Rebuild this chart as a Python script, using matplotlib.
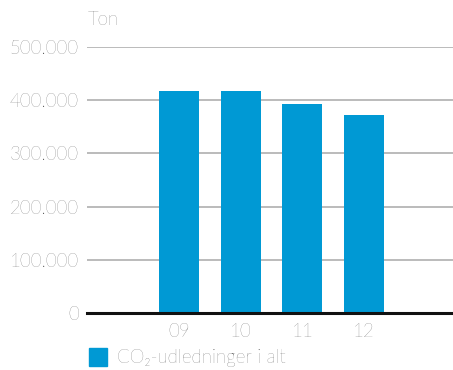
import numpy as np
import matplotlib
matplotlib.use("Agg")
import matplotlib.pyplot as plt

years = ["09", "10", "11", "12"]
co2 = [417000, 417000, 393000, 372000]
yticks = [0, 100000, 200000, 300000, 400000, 500000]
ytick_labels = ["0", "100.000", "200.000", "300.000", "400.000", "500.000"]

blue = "#0099D4"
txt = "#4a4a4a"
plt.rcParams['font.family'] = ['Lato', 'DejaVu Sans']
plt.rcParams['font.weight'] = 'light'

fig = plt.figure(figsize=(4.53, 3.70), dpi=100)
ax = fig.add_axes([87/453, 1 - 313/370, 366/453, 266/370])

x = np.arange(len(years))
ax.bar(x, co2, width=0.65, color=blue, zorder=3)

ax.set_ylim(0, 500000)
ax.set_xlim(-1.49, 4.44)
ax.set_yticks(yticks)
ax.set_yticklabels(ytick_labels)
ax.set_xticks(x)
ax.set_xticklabels(years)
ax.grid(axis='y', color='#b5b5b5', linewidth=1.3, zorder=0)
ax.axhline(0, color='#111111', linewidth=2.2, zorder=4, clip_on=False)
for s in ax.spines.values():
    s.set_visible(False)
ax.tick_params(axis='both', length=0, labelsize=13.5, labelcolor=txt)
ax.tick_params(axis='y', pad=6)
ax.tick_params(axis='x', pad=7)

fig.text(88/453, 1 - 20/370, "Ton", fontsize=13.5, color=txt, va='center', ha='left')
fig.patches.append(plt.Rectangle((89/453, 1 - 366/370), 18/453, 18/370,
                                 transform=fig.transFigure, color=blue, figure=fig))
fig.text(117/453, 1 - 358/370, "CO₂-udledninger i alt", fontsize=13.5, color=txt,
         va='center', ha='left')

fig.savefig("out.png", dpi=100)
